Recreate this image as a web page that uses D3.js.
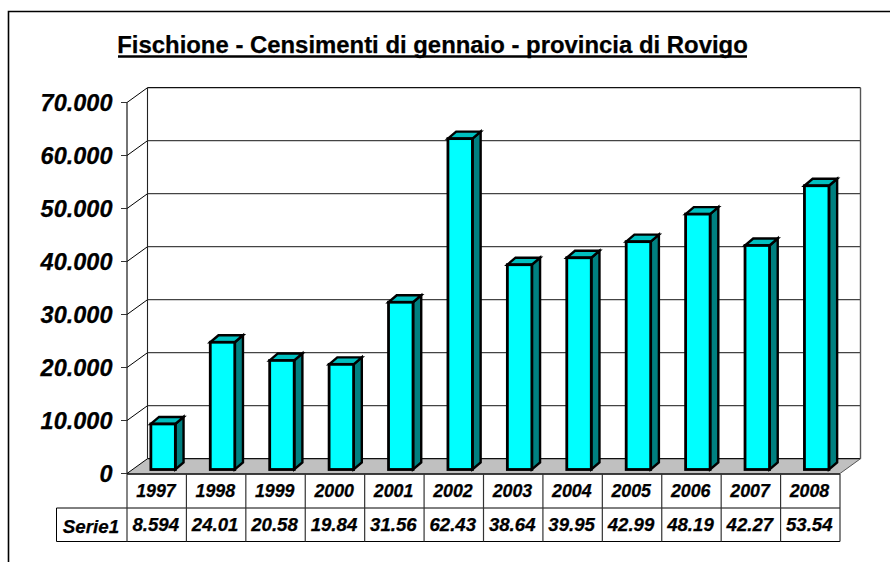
<!DOCTYPE html>
<html><head><meta charset="utf-8">
<script src="https://cdnjs.cloudflare.com/ajax/libs/d3/7.8.5/d3.min.js"></script>
<style>html,body{margin:0;padding:0;background:#fff}svg{display:block}
text{font-family:"Liberation Sans",Arial,sans-serif;fill:#000;font-weight:bold;stroke:#000;stroke-width:.25px}</style>
</head><body><svg id="c" width="890" height="562"></svg>
<script>
const chartTitle = "Fischione - Censimenti di gennaio - provincia di Rovigo";
const seriesName = "Serie1";
const years = ["1997","1998","1999","2000","2001","2002","2003","2004","2005","2006","2007","2008"];
const values = [8594,24010,20580,19840,31560,62430,38640,39950,42990,48190,42270,53540];
const valueLabels = ["8.594","24.01","20.58","19.84","31.56","62.43","38.64","39.95","42.99","48.19","42.27","53.54"];
const yTicks = [0,10000,20000,30000,40000,50000,60000,70000];
const tickLabels = ["0","10.000","20.000","30.000","40.000","50.000","60.000","70.000"];

const svg = d3.select("#c");
const W = 890, H = 562;
const x = d3.scaleBand().domain(years).range([127,840]);
const y = d3.scaleLinear().domain([0,70000]).range([473.5,102.5]);
const depth = {dx:20.5, dy:-14.8};
const barFront = {dx:6.4, dy:-4};
const barDepth = {dx:8.2, dy:-7};
const barW = 24.5;

// chart frame (open to the right and bottom)
svg.append("path").attr("d",`M${W},11.5H8.5V${H}`).attr("fill","none").attr("stroke","#000").attr("stroke-width",1.6);

// title
svg.append("text").attr("x",432.5).attr("y",53).attr("text-anchor","middle")
  .attr("font-size",23.9).text(chartTitle);
svg.append("line").attr("x1",118).attr("x2",747).attr("y1",56.5).attr("y2",56.5).attr("stroke","#000").attr("stroke-width",2.6);

// floor
const x0=x.range()[0], x1=x.range()[1], y0=y(0);
svg.append("path").attr("d",`M${x0},${y0}L${x0+depth.dx},${y0+depth.dy}H${x1+depth.dx}L${x1},${y0}Z`).attr("fill","#c0c0c0");

// back wall gridlines, side wall
const g = svg.append("g");
g.selectAll("line.grid").data(yTicks).join("line").attr("class","grid")
  .attr("x1",x0+depth.dx).attr("x2",x1+depth.dx)
  .attr("y1",d=>y(d)+depth.dy).attr("y2",d=>y(d)+depth.dy)
  .attr("stroke",d=>d===0||d===70000?"#111":"#444").attr("stroke-width",1.3);
g.selectAll("line.side").data(yTicks).join("line").attr("class","side")
  .attr("x1",x0).attr("y1",d=>y(d)).attr("x2",x0+depth.dx).attr("y2",d=>y(d)+depth.dy)
  .attr("stroke","#000").attr("stroke-width",1);
g.append("line").attr("x1",x0+depth.dx).attr("x2",x0+depth.dx).attr("y1",y(70000)+depth.dy).attr("y2",y(0)+depth.dy).attr("stroke","#222").attr("stroke-width",1.1);
g.append("line").attr("x1",x1+depth.dx).attr("x2",x1+depth.dx).attr("y1",y(70000)+depth.dy).attr("y2",y(0)+depth.dy).attr("stroke","#555").attr("stroke-width",1.4);
g.append("line").attr("x1",x0).attr("x2",x0).attr("y1",y(70000)).attr("y2",y(0)).attr("stroke","#000").attr("stroke-width",1.1);
g.append("line").attr("x1",x1).attr("x2",x1+depth.dx).attr("y1",y0).attr("y2",y0+depth.dy).attr("stroke","#555").attr("stroke-width",1);

// ticks + labels
g.selectAll("line.tick").data(yTicks).join("line").attr("class","tick")
  .attr("x1",x0-6).attr("x2",x0).attr("y1",d=>y(d)).attr("y2",d=>y(d)).attr("stroke","#333").attr("stroke-width",1);
svg.selectAll("text.ytl").data(yTicks).join("text").attr("class","ytl")
  .attr("x",x0-14.5).attr("y",d=>y(d)+8.5).attr("text-anchor","end")
  .attr("font-size",23.5).attr("font-style","italic").text((d,i)=>tickLabels[i]);

// bars
const bars = svg.selectAll("g.bar").data(years.map((yr,i)=>({yr,v:values[i]}))).join("g").attr("class","bar")
  .attr("stroke","#000").attr("stroke-width",2.4).attr("stroke-linejoin","miter");
const L = d=>x(d.yr)+x.bandwidth()/2+barFront.dx-barW/2, R = d=>L(d)+barW;
const B = barFront.dy+y0, T = d=>y(d.v)+barFront.dy;
bars.append("path").attr("fill","#008080")
  .attr("d",d=>`M${R(d)},${B}V${T(d)}l${barDepth.dx},${barDepth.dy}V${B+barDepth.dy}Z`);
bars.append("path").attr("fill","#00c0c0")
  .attr("d",d=>`M${L(d)},${T(d)}l${barDepth.dx},${barDepth.dy}H${R(d)+barDepth.dx}l${-barDepth.dx},${-barDepth.dy}Z`);
bars.append("rect").attr("fill","#00ffff").attr("stroke-width",2.8)
  .attr("x",L).attr("y",T).attr("width",barW).attr("height",d=>B-T(d));

// data table
const rowTop=474, rowMid=508, rowBot=541.5, tblLeft=56.5;
const tb = svg.append("g").attr("stroke","#000").attr("stroke-width",1).attr("fill","none");
tb.append("line").attr("x1",x0).attr("x2",x1).attr("y1",rowTop).attr("y2",rowTop).attr("stroke-width",1.4);
tb.append("line").attr("x1",tblLeft).attr("x2",x1).attr("y1",rowMid).attr("y2",rowMid);
tb.append("line").attr("x1",tblLeft).attr("x2",x1).attr("y1",rowBot).attr("y2",rowBot);
tb.append("line").attr("x1",tblLeft).attr("x2",tblLeft).attr("y1",rowMid).attr("y2",rowBot);
tb.selectAll("line.v").data(x.domain().map(d=>x(d)).concat([x1])).join("line").attr("class","v")
  .attr("x1",d=>d).attr("x2",d=>d).attr("y1",rowTop).attr("y2",rowBot).attr("stroke","#333").attr("stroke-width",1.2);
svg.selectAll("text.yr").data(years).join("text").attr("class","yr")
  .attr("x",d=>x(d)+x.bandwidth()/2-0.8).attr("y",496.5).attr("text-anchor","middle")
  .attr("font-size",17.8).attr("font-style","italic").text(d=>d);
svg.selectAll("text.val").data(valueLabels).join("text").attr("class","val")
  .attr("x",(d,i)=>x(years[i])+x.bandwidth()/2-1).attr("y",531).attr("text-anchor","middle")
  .attr("font-size",18.6).attr("font-style","italic").text(d=>d);
svg.append("text").attr("x",91).attr("y",533).attr("text-anchor","middle")
  .attr("font-size",18.8).attr("font-style","italic").text(seriesName);
</script></body></html>
